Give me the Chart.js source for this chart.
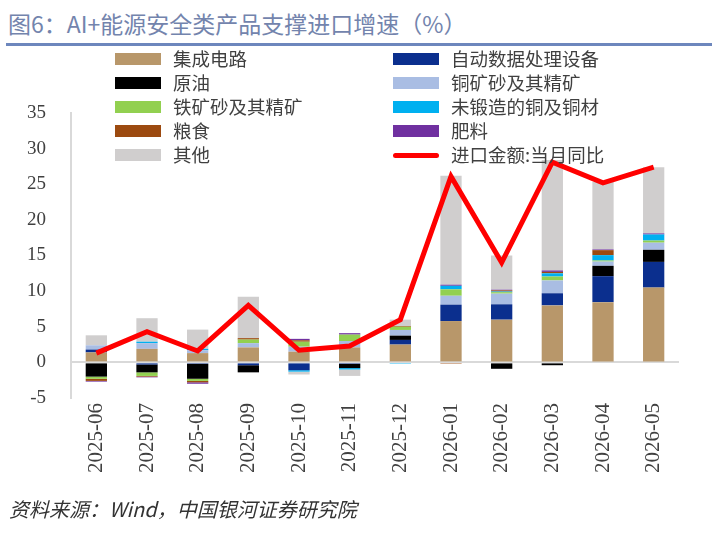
<!DOCTYPE html>
<html>
<head>
<meta charset="utf-8">
<script src="https://cdn.jsdelivr.net/npm/chart.js@4.4.0/dist/chart.umd.min.js"></script>
<style>
  body { margin: 0; background: #fff; }
  #wrap { position: relative; width: 718px; height: 536px; overflow: hidden; }
  #titolo { position: absolute; left: 8px; top: 6px; font-family: "Noto Sans CJK SC", sans-serif; font-size: 23px; color: #7384ad; white-space: nowrap; }
  #riga { position: absolute; left: 6px; top: 43px; width: 706px; height: 3px; background: #6d87bd; }
  #grafico { position: absolute; left: 0; top: 0; }
  #legenda { position: absolute; left: 0; top: 0; font-family: "Noto Sans CJK SC", sans-serif; font-size: 18.5px; color: #404040; }
  .voce { position: absolute; height: 24px; white-space: nowrap; }
  .box { position: absolute; left: 0; top: 6px; width: 46px; height: 12px; }
  .testo { position: absolute; left: 58px; top: -1px; line-height: 24px; }
  #fonte { position: absolute; left: 9px; top: 494px; font-family: "Noto Sans CJK SC", sans-serif; font-size: 20px; font-style: italic; color: #333; white-space: nowrap; }
</style>
</head>
<body>
<div id="wrap">
  <div id="titolo">图6：AI+能源安全类产品支撑进口增速（%）</div>
  <div id="riga"></div>
  <canvas id="grafico" width="718" height="536"></canvas>
  <div id="legenda"></div>
  <div id="fonte">资料来源：Wind，中国银河证券研究院</div>
</div>
<script>
// dati
var mesi = ['2025-06', '2025-07', '2025-08', '2025-09', '2025-10', '2025-11', '2025-12', '2026-01', '2026-02', '2026-03', '2026-04', '2026-05'];
var yTicks = [-5, 0, 5, 10, 15, 20, 25, 30, 35];

var circuiti = [1.4, 1.9, 1.3, 2.1, 1.5, 2.1, 2.5, 5.8, 6.0, 8.0, 8.45, 10.5];
var datiAuto = [0.4, -0.3, -0.2, -0.4, -1.1, -0.2, 0.65, 2.3, 2.15, 1.7, 3.65, 3.6];
var petrolio = [-2.0, -1.1, -2.1, -1.0, 0, -0.6, 0.6, 0, -0.9, -0.4, 1.45, 1.7];
var rameMinerale = [0.6, 0.8, 0.4, 0.6, 0.7, 0.9, 0.8, 1.25, 1.5, 1.8, 0.6, 1.0];
var ferroMinerale = [-0.3, -0.5, -0.3, 0.5, 0.7, 0.9, 0.45, 0.9, 0.2, 0.55, 0.15, 0.3];
var rameGrezzo = [0, 0.2, 0.2, 0, -0.2, -0.2, -0.2, 0.5, 0.1, 0.45, 0.75, 0.85];
var cereali = [-0.3, -0.1, -0.2, 0.2, 0.2, 0, 0.1, -0.2, 0.15, 0.2, 0.7, 0];
var fertilizzanti = [-0.1, -0.1, -0.2, 0, 0.2, 0.2, 0, 0.15, 0.1, 0.2, 0.1, 0.15];
var altro = [1.4, 3.3, 2.7, 5.8, -0.4, -0.9, 0.9, 15.3, 4.8, 15.5, 9.5, 9.3];
var importTotale = [1.3, 4.3, 1.6, 8.0, 1.7, 2.3, 6.0, 26.1, 14.0, 28.1, 25.2, 27.4];

var serie = [
    { label: '集成电路', data: circuiti, color: '#b8976a' },
    { label: '自动数据处理设备', data: datiAuto, color: '#0b2f8e' },
    { label: '原油', data: petrolio, color: '#000000' },
    { label: '铜矿砂及其精矿', data: rameMinerale, color: '#a9bde3' },
    { label: '铁矿砂及其精矿', data: ferroMinerale, color: '#92d050' },
    { label: '未锻造的铜及铜材', data: rameGrezzo, color: '#00b0f0' },
    { label: '粮食', data: cereali, color: '#9c4a10' },
    { label: '肥料', data: fertilizzanti, color: '#7030a0' },
    { label: '其他', data: altro, color: '#d0cece' }
];

function creaDataset(){
    var ds = [{
        type: 'line',
        label: '进口金额:当月同比',
        data: importTotale,
        borderColor: '#ff0000',
        backgroundColor: '#ff0000',
        borderWidth: 5,
        pointRadius: 0,
        tension: 0,
        stack: 'linea',
        order: 0
    }];
    for (var i = 0; i < serie.length; i++) {
        ds.push({
            type: 'bar',
            label: serie[i].label,
            data: serie[i].data,
            backgroundColor: serie[i].color,
            borderWidth: 0,
            stack: 'barre',
            order: 1,
            barPercentage: 0.42,
            categoryPercentage: 1.0
        });
    }
    return ds;
};

var ctx = document.getElementById('grafico');
var chart = new Chart(ctx, {
    data: {
        labels: mesi,
        datasets: creaDataset()
    },
    options: {
        responsive: false,
        animation: false,
        layout: { padding: { top: 113, left: 0, right: 39, bottom: 0 } },
        plugins: {
            legend: { display: false },
            tooltip: { enabled: false }
        },
        scales: {
            x: {
                stacked: true,
                grid: { display: false, drawTicks: false },
                border: { display: false },
                ticks: {
                    color: '#404040',
                    font: { family: '"Liberation Serif", serif', size: 21 },
                    minRotation: 90,
                    maxRotation: 90,
                    padding: 5
                },
                afterFit: function(scale){ scale.height = 138; }
            },
            y: {
                stacked: true,
                min: -5,
                max: 35,
                afterBuildTicks: function(scale){
                    scale.ticks = yTicks.map(function(v){ return { value: v }; });
                },
                grid: {
                    drawTicks: false,
                    lineWidth: 2,
                    color: function(c){ return c.tick && c.tick.value === 0 ? '#d9d9d9' : 'rgba(0,0,0,0)'; }
                },
                border: { display: true, color: '#d9d9d9', width: 2 },
                ticks: {
                    color: '#404040',
                    font: { family: '"Liberation Serif", serif', size: 19 },
                    padding: 25
                },
                afterFit: function(scale){ scale.width = 71; }
            }
        }
    }
});

// legenda a due colonne, in ordine dei dataset
function stampaLegenda(){
    var box = document.getElementById('legenda');
    var ordine = chart.data.datasets.slice(1);
    ordine.push(chart.data.datasets[0]);
    for (var i = 0; i < ordine.length; i++) {
        var d = ordine[i];
        var col = i % 2;
        var row = Math.floor(i / 2);
        var voce = document.createElement('div');
        voce.className = 'voce';
        voce.style.left = (col === 0 ? 115 : 393) + 'px';
        voce.style.top = (47 + row * 24) + 'px';
        var quad = document.createElement('div');
        quad.className = 'box';
        if (d.type === 'line') {
            quad.style.height = '5px';
            quad.style.top = '10px';
            quad.style.borderRadius = '3px';
            quad.style.background = d.borderColor;
        } else {
            quad.style.background = d.backgroundColor;
        }
        var txt = document.createElement('span');
        txt.className = 'testo';
        txt.textContent = d.label;
        voce.appendChild(quad);
        voce.appendChild(txt);
        box.appendChild(voce);
    }
};
stampaLegenda();
</script>
</body>
</html>
